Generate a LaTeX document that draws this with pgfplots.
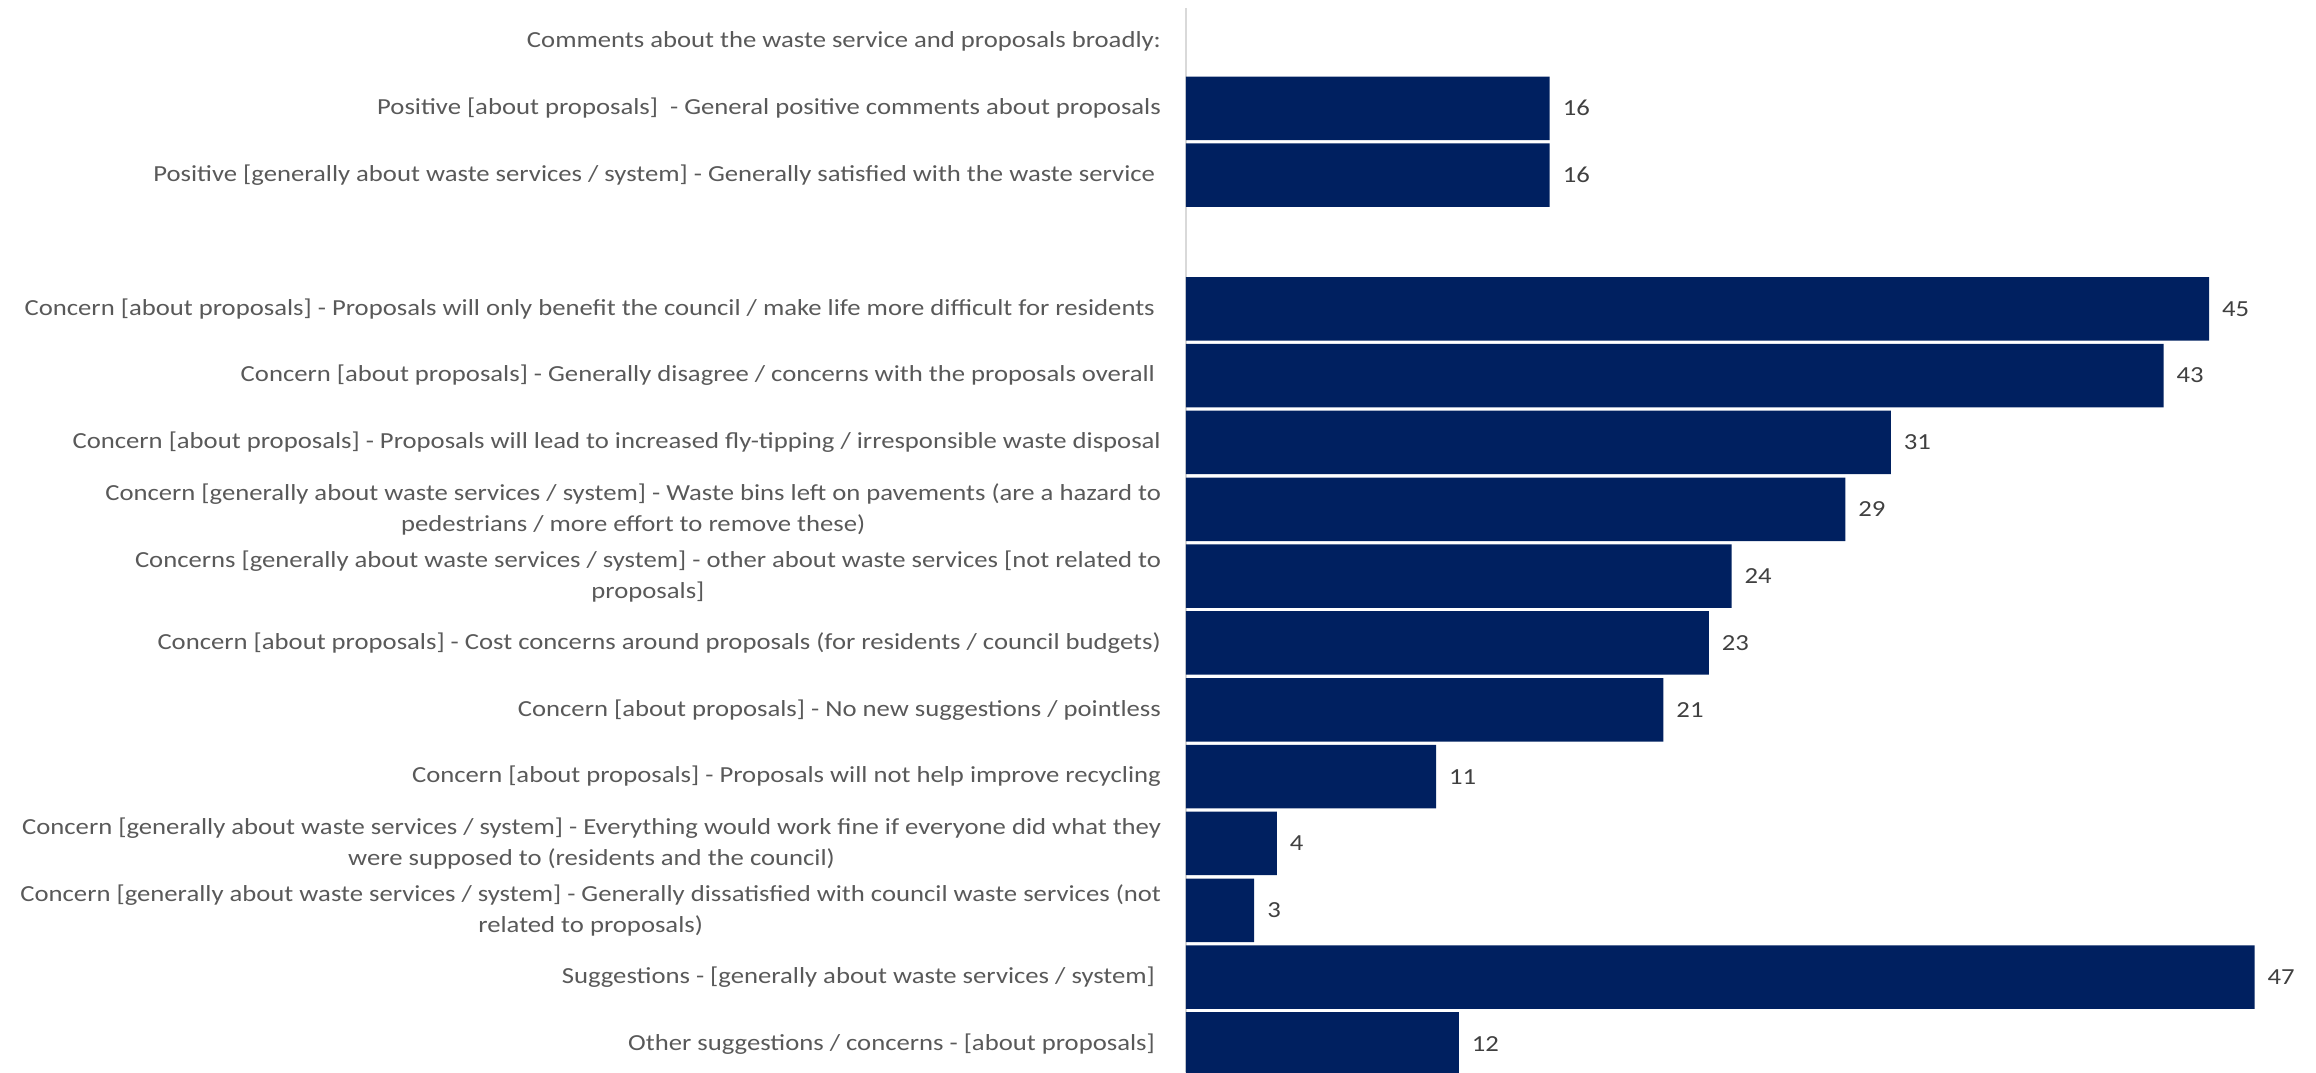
\documentclass[border=0pt]{standalone}
\usepackage{pgfplots}
\pgfplotsset{compat=1.18}
\usepackage{fontspec}
\setmainfont{Carlito}[FakeStretch=1.16]
\definecolor{barnavy}{HTML}{002060}
\definecolor{labelgray}{HTML}{595959}
\definecolor{valgray}{HTML}{404040}
\definecolor{axisgray}{HTML}{D9D9D9}

\begin{document}
\begin{tikzpicture}
  \useasboundingbox (-593pt,0pt) rectangle (565pt,536pt);
  \begin{axis}[
      at={(0pt,0pt)}, anchor=south west,
      scale only axis,
      width=557pt, height=532pt,
      xbar,
      bar width=0.95,
      y dir=reverse,
      xmin=0, xmax=49,
      ymin=-0.5, ymax=15.42,
      axis x line=none,
      axis y line*=left,
      y axis line style={axisgray, line width=0.8pt, -},
      ytick={0,...,15},
      major tick length=0pt,
      yticklabels={
        Comments about the waste service and proposals broadly:,
        Positive [about proposals]\ \ - General positive comments about proposals,
        Positive [generally about waste services / system] - Generally satisfied with the waste service\ ,
        {},
        Concern [about proposals] - Proposals will only benefit the council / make life more difficult for residents\ ,
        Concern [about proposals] - Generally disagree / concerns with the proposals overall\ ,
        Concern [about proposals] - Proposals will lead to increased fly-tipping / irresponsible waste disposal,
        {Concern [generally about waste services / system] - Waste bins left on pavements (are a hazard to\\pedestrians / more effort to remove these)},
        {Concerns [generally about waste services / system] - other about waste services [not related to\\proposals]},
        Concern [about proposals] - Cost concerns around proposals (for residents / council budgets),
        Concern [about proposals] - No new suggestions / pointless,
        Concern [about proposals] - Proposals will not help improve recycling,
        {Concern [generally about waste services / system] - Everything would work fine if everyone did what they\\were supposed to (residents and the council)},
        {Concern [generally about waste services / system] - Generally dissatisfied with council waste services (not\\related to proposals)},
        Suggestions - [generally about waste services / system]\ ,
        Other suggestions / concerns - [about proposals]\ 
      },
      yticklabel style={font=\fontsize{11.5}{15.5}\selectfont, text=labelgray,
        align=center, anchor=east, xshift=-9pt},
      clip=false,
      nodes near coords,
      point meta=x,
      /pgf/number format/assume math mode=true,
      nodes near coords style={font=\fontsize{11.5}{13}\selectfont, text=valgray,
        anchor=west, xshift=3pt},
    ]
    \addplot[fill=barnavy, draw=none] coordinates {
      (16,1) (16,2) (45,4) (43,5) (31,6) (29,7) (24,8) (23,9)
      (21,10) (11,11) (4,12) (3,13) (47,14) (12,15)
    };
  \end{axis}
\end{tikzpicture}
\end{document}
